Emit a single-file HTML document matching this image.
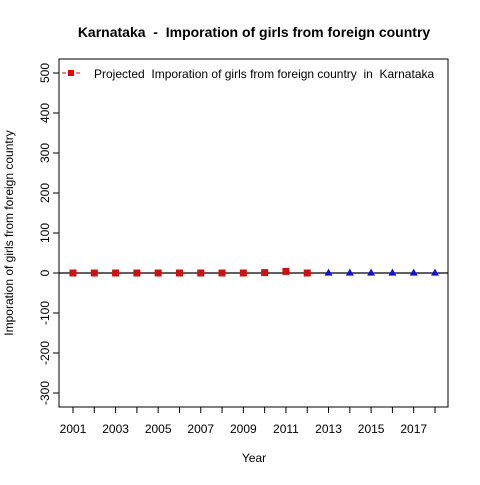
<!DOCTYPE html>
<html><head><meta charset="utf-8"><style>
body{margin:0;background:#fff}
text{font-family:"Liberation Sans",Arial,sans-serif;white-space:pre;}
</style></head><body>
<svg id="chart" width="480" height="480" xmlns="http://www.w3.org/2000/svg">
<rect width="480" height="480" fill="#fff"/>
<text x="254" y="37" text-anchor="middle" font-size="14" font-weight="bold">Karnataka  -  Imporation of girls from foreign country</text>
<rect x="59" y="59" width="389" height="348" fill="none" stroke="#000"/>
<text x="254" y="462" text-anchor="middle" font-size="12">Year</text>
<text transform="translate(13,233) rotate(-90)" text-anchor="middle" font-size="12">Imporation of girls from foreign country</text>
<g id="axes"></g>
<g id="marks"></g>
<g>
<line x1="62" y1="73" x2="80" y2="73" stroke="#e00" stroke-dasharray="4,3"/>
<rect x="68" y="70" width="6" height="6" fill="#e00"/>
<text x="94" y="78" font-size="12">Projected  Imporation of girls from foreign country  in  Karnataka</text>
</g>
</svg>
<script>
const years=[2001,2002,2003,2004,2005,2006,2007,2008,2009,2010,2011,2012];
const values=[0,0,0,0,0,0,0,0,0,1,4,0];
const projYears=[2013,2014,2015,2016,2017,2018];
const projValues=[1,1,1,1,1,1];
const yTicks=[-300,-200,-100,0,100,200,300,400,500];
const xTicks=[2001,2003,2005,2007,2009,2011,2013,2015,2017];
const xMinorTicks=[2002,2004,2006,2008,2010,2012,2014,2016,2018];
const NS="http://www.w3.org/2000/svg";
const X=v=>73+(v-2001)*(435-73)/17;
const Y=v=>273-0.4*v;
function mk(t,a,p){const e=document.createElementNS(NS,t);for(const k in a)e.setAttribute(k,a[k]);p.appendChild(e);return e;}
const axes=document.getElementById('axes'),marks=document.getElementById('marks');
yTicks.forEach(v=>{
 const l=mk('line',{x1:53,x2:59,y1:Y(v),y2:Y(v),stroke:'#000'},axes);
 
 
 const t=mk('text',{transform:`translate(49,${Y(v)}) rotate(-90)`,'text-anchor':'middle','font-size':12},axes);
 t.textContent=v;
 
 
});
xTicks.concat(xMinorTicks).forEach(v=>{
 const l=mk('line',{x1:X(v),x2:X(v),y1:407,y2:413,stroke:'#000'},axes);
 
 
});
xTicks.forEach(v=>{
 const t=mk('text',{x:X(v),y:433,'text-anchor':'middle','font-size':12},axes);
 t.textContent=v;
 
 
});
const zl=mk('line',{x1:59,x2:448,y1:Y(0),y2:Y(0),stroke:'#000','stroke-width':1.3},marks);


years.forEach((yr,i)=>{
 const r=mk('rect',{x:X(yr)-3.5,y:Y(values[i])-3.5,width:7,height:7,fill:'#d01010'},marks);
 
 
});
projYears.forEach((yr,i)=>{
 const x=X(yr),y=Y(projValues[i]);
 const p=mk('polygon',{points:`${x},${y-4} ${x-4},${y+3} ${x+4},${y+3}`,fill:'#1010e0'},marks);
 
 
});
</script>
</body></html>
